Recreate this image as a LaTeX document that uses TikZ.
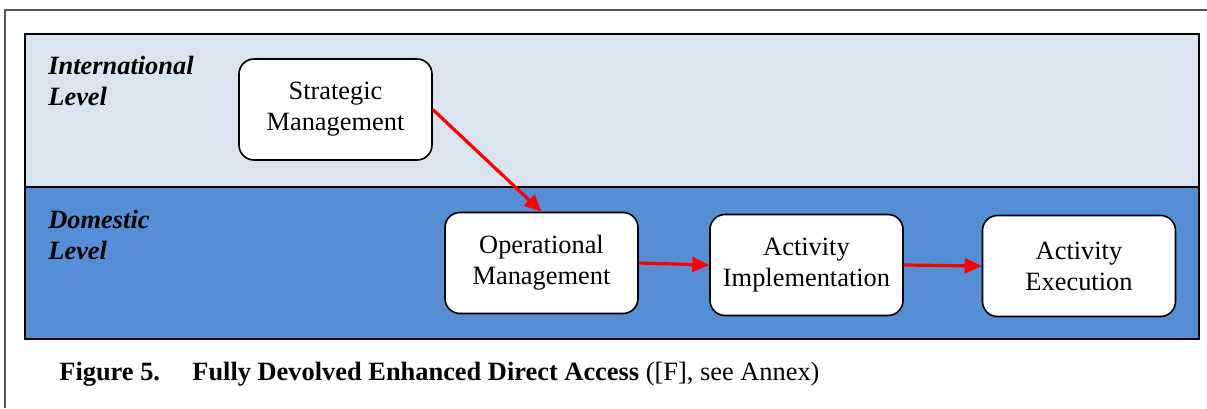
\documentclass[tikz,border=0pt]{standalone}
\usepackage{fontspec}
\setmainfont{Liberation Serif}
\usepackage{tikz}
\usetikzlibrary{arrows.meta,positioning}
\definecolor{intlband}{RGB}{218,227,240}
\definecolor{domband}{RGB}{85,142,213}
\definecolor{framegray}{RGB}{85,85,85}

\begin{document}
\begin{tikzpicture}[x=0.5pt,y=-0.5pt,
  every node/.style={font=\fontsize{13.2}{15.5}\selectfont},
  band/.style={draw=black,line width=1pt},
  level/.style={anchor=north west,inner sep=0pt,align=left,font=\fontsize{13.2}{15.5}\selectfont\bfseries\itshape},
  process/.style={draw=black,line width=0.8pt,rounded corners=7.5pt,fill=white,
    minimum width=96.5pt,minimum height=50.5pt,align=center},
  flow/.style={draw=red,line width=1.6pt,-{Triangle[length=8.5pt,width=7.5pt]}}]

    \useasboundingbox (0,0) rectangle (1207,408);
    \draw[framegray,line width=0.8pt] (1207,10) -- (5,10) -- (5,408);

    \draw[band,fill=intlband] (25,34) rectangle (1199,187);
    \draw[band,fill=domband] (25,187) rectangle (1199,339);

    \node[level] (intl) at (48,56) {International\\Level};
    \node[level] (dom) at (48,210) {Domestic\\Level};

    \node[process] (strat) at (335.5,109.5) {Strategic\\Management};
    \node[process] (oper) at (541.5,263) {Operational\\Management};
    \node[process] (impl) at (806.5,265) {Activity\\Implementation};
    \node[process] (exec) at (1079,266) {Activity\\Execution};

    \draw[flow] (strat.east) -- (oper.north);
    \draw[flow] (oper.east) -- (impl.west);
    \draw[flow] (impl.east) -- (exec.west);

    \node[anchor=base west,inner sep=0pt] (caption) at (59,380)
      {\makebox[66.5pt][l]{\bfseries Figure 5.}\textbf{Fully Devolved Enhanced Direct Access} ([F], see Annex)};
\end{tikzpicture}
\end{document}
